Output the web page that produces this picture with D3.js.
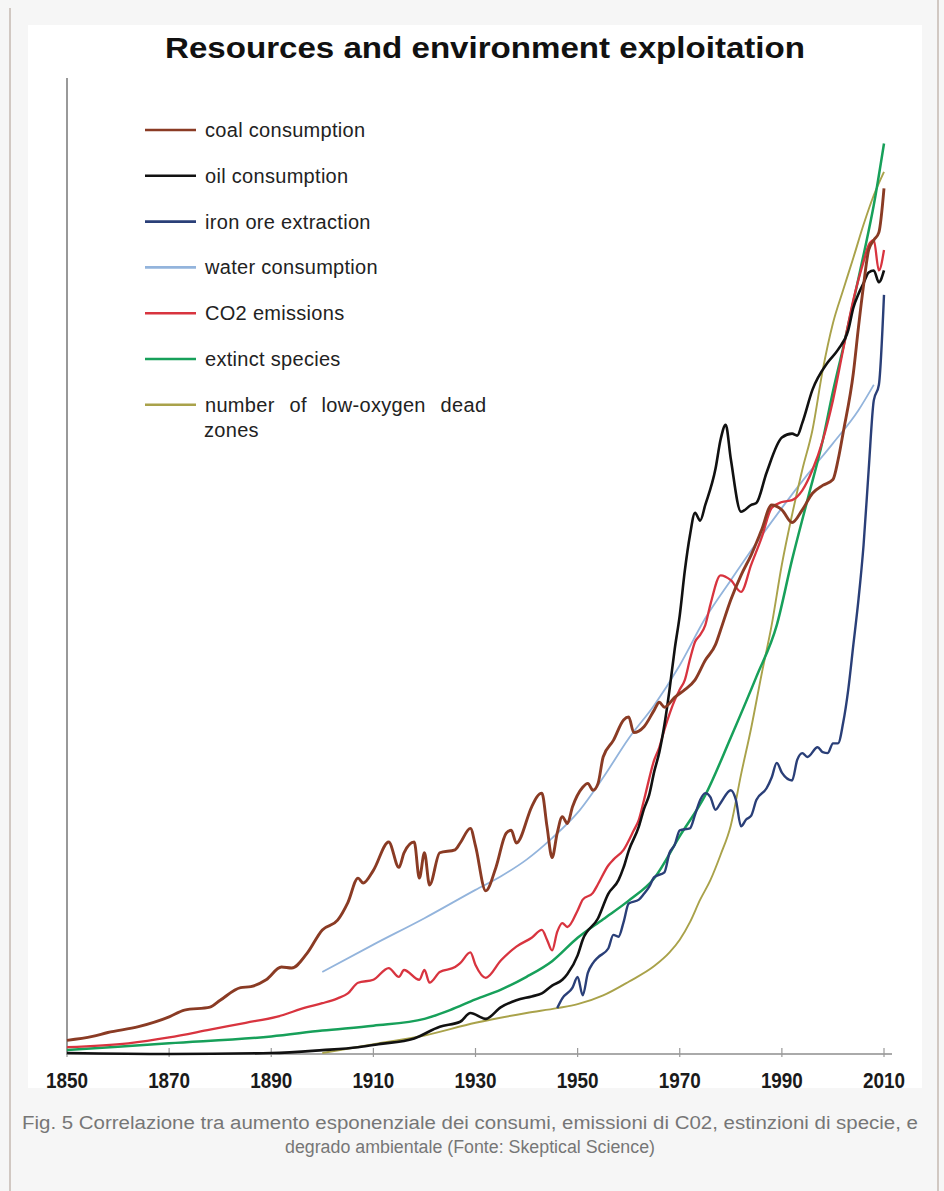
<!DOCTYPE html>
<html>
<head>
<meta charset="utf-8">
<script src="https://cdn.jsdelivr.net/npm/d3@7/dist/d3.min.js"></script>
<style>
body { margin: 0; background: #f6f6f6; }
svg { display: block; font-family: "Liberation Sans", Arial, sans-serif; }
</style>
</head>
<body>
<script>
//values are a relative index (no y scale in the original)

//coal consumption
var coal = [[1850,1.5],[1855,1.9],[1858,2.3],[1864,2.9],[1870,3.9],[1873,4.6],[1878,4.9],[1880,5.6],
    [1884,6.9],[1886,7.0],[1889,7.7],[1892,9.0],[1894,8.9],[1897,10.4],[1900,12.8],[1903,13.8],
    [1905,15.6],[1907,18.1],[1908,17.6],[1910,18.9],[1913,21.8],[1915,19.2],[1916,20.7],[1918,21.8],
    [1919,18.1],[1920,20.7],[1921,17.4],[1923,20.7],[1926,21.0],[1927,21.7],[1929,23.2],[1930,21.4],
    [1932,16.8],[1934,19.2],[1936,22.7],[1937,23.0],[1938,21.7],[1941,25.4],[1942,26.4],[1943,26.8],
    [1944,23.4],[1945,20.2],[1946,22.7],[1947,24.4],[1948,23.7],[1949,25.4],[1951,27.4],[1952,27.8],
    [1953,27.1],[1954,27.8],[1955,30.5],[1957,32.2],[1959,34.3],[1960,34.6],[1961,33.0],[1963,33.6],
    [1965,35.3],[1966,36.1],[1967,35.6],[1969,36.6],[1971,37.4],[1973,38.4],[1975,40.4],[1977,42.0],
    [1978,43.5],[1980,46.6],[1982,49.1],[1984,51.2],[1986,53.7],[1988,56.3],[1990,55.8],[1992,54.5],
    [1994,55.8],[1996,57.5],[1998,58.3],[2000,58.9],[2001,60.9],[2002,63.7],[2004,69.8],[2005,74.5],
    [2006,78.8],[2007,82.4],[2008,83.4],[2009,84.2],[2010,88.7]];

//oil consumption
var oil = [[1850,0.2],[1870,0.1],[1890,0.2],[1900,0.5],[1907,0.8],[1911,1.1],[1918,1.7],[1923,2.9],
    [1927,3.4],[1929,4.3],[1932,3.7],[1935,4.9],[1938,5.6],[1941,6.0],[1943,6.3],[1945,7.1],[1947,7.7],
    [1948,8.3],[1950,10.2],[1951,11.8],[1954,14.0],[1956,16.5],[1958,17.9],[1959,19.2],[1960,20.9],
    [1962,23.4],[1963,25.2],[1964,26.6],[1965,29.0],[1966,31.0],[1967,33.8],[1968,37.4],[1969,41.5],
    [1970,45.0],[1971,49.6],[1972,53.2],[1973,55.5],[1974,54.7],[1975,56.3],[1977,60.0],[1978,63.0],
    [1979,64.5],[1980,61.0],[1982,55.6],[1984,56.3],[1985,56.5],[1987,59.6],[1990,63.2],[1992,63.6],
    [1993,63.4],[1994,64.7],[1996,68.1],[1999,70.9],[2001,72.2],[2003,74.2],[2004,76.5],[2005,77.9],
    [2006,79.0],[2007,80.1],[2008,80.3],[2009,79.1],[2010,80.3]];

//iron ore extraction
var iron = [[1946,4.8],[1947,5.8],[1949,6.9],[1950,8.0],[1951,6.1],[1952,8.4],[1953,9.4],[1954,10.0],
    [1956,10.9],[1957,12.3],[1958,12.1],[1959,13.6],[1960,15.5],[1962,15.9],[1963,16.5],[1964,17.2],
    [1965,18.2],[1967,18.7],[1968,20.7],[1969,21.5],[1970,23.0],[1972,23.2],[1973,24.6],[1974,26.1],
    [1975,26.8],[1976,26.4],[1977,25.1],[1978,25.8],[1980,27.1],[1981,26.1],[1982,23.4],[1983,24.1],
    [1984,24.5],[1985,26.1],[1987,27.3],[1988,28.4],[1989,29.9],[1990,28.9],[1992,28.1],[1993,30.2],
    [1994,30.9],[1995,30.5],[1997,31.5],[1998,31.0],[1999,30.9],[2000,31.9],[2001,31.9],[2002,34.0],
    [2003,37.4],[2004,42.0],[2005,46.6],[2006,52.2],[2007,59.9],[2008,67.0],[2009,68.6],[2010,77.8]];

//water consumption
var water = [[1900,8.5],[1910,11.3],[1920,14.0],[1930,16.9],[1935,18.3],[1940,20.0],[1945,22.2],
    [1950,24.8],[1955,28.4],[1960,32.4],[1965,35.8],[1970,39.9],[1975,44.7],[1980,48.6],[1985,52.4],
    [1990,56.0],[1995,59.4],[2000,62.6],[2005,66.0],[2008,68.6]];

//CO2 emissions
var co2 = [[1850,0.8],[1862,1.2],[1870,1.8],[1878,2.6],[1885,3.3],[1891,3.9],[1897,4.9],[1900,5.3],
    [1903,5.8],[1905,6.3],[1907,7.4],[1910,7.7],[1913,8.9],[1915,8.0],[1916,8.7],[1919,7.7],[1920,8.7],
    [1921,7.4],[1923,8.5],[1926,9.0],[1927,9.4],[1929,10.5],[1930,9.2],[1932,7.9],[1935,9.7],[1938,11.1],
    [1941,12.0],[1943,12.8],[1944,11.8],[1945,10.7],[1946,12.6],[1947,13.5],[1948,13.1],[1950,14.8],
    [1951,15.9],[1953,16.6],[1954,17.5],[1956,19.4],[1957,20.0],[1959,21.0],[1961,23.0],[1962,24.1],
    [1963,26.1],[1965,30.2],[1966,31.5],[1967,33.3],[1969,36.3],[1970,37.4],[1971,38.4],[1972,40.5],
    [1973,42.3],[1974,43.0],[1975,44.0],[1976,46.1],[1978,49.1],[1980,48.6],[1982,47.4],[1984,50.2],
    [1986,52.9],[1988,56.0],[1990,56.6],[1992,56.8],[1994,57.8],[1996,59.9],[1998,62.9],[2000,67.0],
    [2002,72.2],[2004,77.3],[2006,81.2],[2007,82.9],[2008,83.4],[2009,80.3],[2010,82.4]];

//extinct species
var extinct = [[1850,0.5],[1870,1.2],[1890,1.9],[1900,2.5],[1910,3.0],[1920,3.7],[1925,4.6],[1930,5.7],
    [1935,6.7],[1940,8.0],[1945,9.6],[1950,12.0],[1955,13.9],[1960,15.8],[1965,18.1],[1970,22.4],
    [1975,26.6],[1980,32.5],[1985,38.7],[1989,44.0],[1992,50.7],[1995,56.8],[1998,62.9],[2000,67.9],
    [2002,72.4],[2004,77.1],[2006,81.9],[2008,87.0],[2010,93.3]];

//number of low-oxygen dead zones
var deadZones = [[1900,0.2],[1910,1.1],[1920,2.0],[1930,3.3],[1940,4.3],[1946,4.8],[1950,5.2],[1955,6.1],
    [1960,7.5],[1965,9.1],[1968,10.5],[1970,11.8],[1972,13.6],[1974,15.9],[1976,17.9],[1978,20.5],
    [1980,23.5],[1982,28.7],[1984,33.5],[1986,38.9],[1988,44.0],[1990,50.2],[1992,55.3],[1994,59.9],
    [1996,64.0],[1998,70.1],[2000,74.9],[2002,78.3],[2004,81.6],[2006,85.0],[2008,88.0],[2010,90.4]];

var legendLabels = ["coal consumption", "oil consumption", "iron ore extraction", "water consumption",
    "CO2 emissions", "extinct species", "number of low-oxygen dead"];
var legendColors = ["#8a3b24", "#111111", "#2a3f78", "#93b4dc", "#d8343f", "#17a05a", "#a9a24a"];
var yearTicks = [1850, 1870, 1890, 1910, 1930, 1950, 1970, 1990, 2010];

var title = "Resources and environment exploitation";
var caption1 = "Fig. 5 Correlazione tra aumento esponenziale dei consumi, emissioni di C02, estinzioni di specie, e";
var caption2 = "degrado ambientale (Fonte: Skeptical Science)";

//page size
var width = 944, height = 1191;

var svg = d3.select("body")
    .append("svg")
    .attr("width", width)
    .attr("height", height);

//grey frame lines
svg.append("line").attr("x1", 10).attr("x2", 10).attr("y1", 8).attr("y2", height)
    .style("stroke", "#c4b8b0").style("stroke-width", 1.5);
svg.append("line").attr("x1", 938).attr("x2", 938).attr("y1", 0).attr("y2", height)
    .style("stroke", "#c4b8b0").style("stroke-width", 1.5);

//white picture area
svg.append("rect").attr("x", 28).attr("y", 25).attr("width", 894).attr("height", 1063)
    .style("fill", "#fff");

//scales
var x = d3.scaleLinear().domain([1850, 2010]).range([67, 884]);
var y = d3.scaleLinear().domain([0, 100]).range([1055, 78]);

//title (narrow, tall letters in the original)
svg.append("text")
    .attr("x", 485).attr("y", 58)
    .attr("text-anchor", "middle")
    .attr("textLength", 640)
    .attr("lengthAdjust", "spacingAndGlyphs")
    .style("font-size", "30px").style("font-weight", "bold").style("fill", "#111")
    .text(title);

//y axis line
svg.append("line").attr("x1", 67).attr("x2", 67).attr("y1", 78).attr("y2", 1055)
    .style("stroke", "#777").style("stroke-width", 1.5);

//x axis
svg.append("line").attr("x1", 67).attr("x2", 892).attr("y1", 1054).attr("y2", 1054)
    .style("stroke", "#aaa").style("stroke-width", 2);
svg.selectAll(".tick")
    .data(yearTicks)
    .enter()
    .append("line")
    .attr("class", "tick")
    .attr("x1", function(d){ return x(d); })
    .attr("x2", function(d){ return x(d); })
    .attr("y1", 1048).attr("y2", 1057)
    .style("stroke", "#999").style("stroke-width", 1.2);
svg.selectAll(".tickLabel")
    .data(yearTicks)
    .enter()
    .append("text")
    .attr("class", "tickLabel")
    .attr("x", function(d){ return x(d); })
    .attr("y", 1088)
    .attr("text-anchor", "middle")
    .attr("textLength", 42)
    .attr("lengthAdjust", "spacingAndGlyphs")
    .style("font-size", "22px").style("font-weight", "bold").style("fill", "#1a1a1a")
    .text(function(d){ return d; });

//lines
var line = d3.line()
    .x(function(d){ return x(d[0]); })
    .y(function(d){ return y(d[1]); })
    .curve(d3.curveMonotoneX);

var series = [
    {data: water, color: legendColors[3], w: 1.8},
    {data: deadZones, color: legendColors[6], w: 1.9},
    {data: extinct, color: legendColors[5], w: 2.5},
    {data: iron, color: legendColors[2], w: 2.4},
    {data: co2, color: legendColors[4], w: 2.3},
    {data: oil, color: legendColors[1], w: 2.6},
    {data: coal, color: legendColors[0], w: 2.9}
];

svg.selectAll(".series")
    .data(series)
    .enter()
    .append("path")
    .attr("class", "series")
    .attr("d", function(d){ return line(d.data); })
    .style("fill", "none")
    .style("stroke", function(d){ return d.color; })
    .style("stroke-width", function(d){ return d.w; })
    .style("stroke-linejoin", "round");

//legend
var legend = svg.selectAll(".legend")
    .data(legendLabels)
    .enter()
    .append("g")
    .attr("class", "legend")
    .attr("transform", function(d, i){ return "translate(0," + (130 + i * 45.8) + ")"; });
legend.append("line")
    .attr("x1", 145).attr("x2", 196)
    .style("stroke", function(d, i){ return legendColors[i]; })
    .style("stroke-width", 2.6);
legend.append("text")
    .attr("x", 205).attr("y", 7)
    .style("font-size", "20px").style("fill", "#222")
    .style("letter-spacing", "0.3px")
    .style("word-spacing", function(d, i){ return i == 6 ? "9px" : "0px"; })
    .text(function(d){ return d; });
svg.append("text")
    .attr("x", 204).attr("y", 137 + 6 * 45.8 + 25)
    .style("font-size", "20px").style("fill", "#222").style("letter-spacing", "0.3px")
    .text("zones");

//caption
svg.append("text")
    .attr("x", 470).attr("y", 1129)
    .attr("text-anchor", "middle")
    .attr("textLength", 896)
    .attr("lengthAdjust", "spacingAndGlyphs")
    .style("font-size", "18px").style("fill", "#767676")
    .text(caption1);
svg.append("text")
    .attr("x", 470).attr("y", 1153)
    .attr("text-anchor", "middle")
    .attr("textLength", 370)
    .attr("lengthAdjust", "spacingAndGlyphs")
    .style("font-size", "18px").style("fill", "#767676")
    .text(caption2);
</script>
</body>
</html>
